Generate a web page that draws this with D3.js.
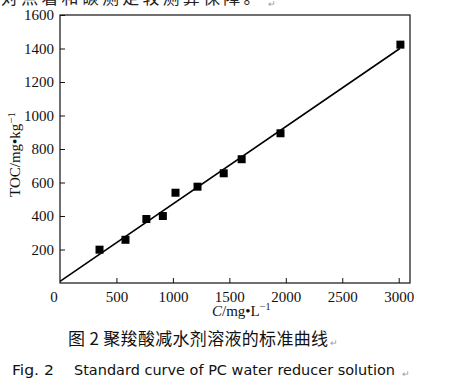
<!DOCTYPE html>
<html>
<head>
<meta charset="utf-8">
<script src="https://cdn.jsdelivr.net/npm/d3@7"></script>
<style>
  html, body { margin: 0; padding: 0; background: #fff; }
  svg { display: block; }
</style>
</head>
<body>
<div id="chart"></div>
<script>
// standard curve data
const concX = [350, 580, 765, 911, 1023, 1218, 1450, 1609, 1953, 3015];
const tocY  = [199, 258, 382, 400, 539, 575, 655, 739, 894, 1423];
const fitX  = [0, 3010];
const fitY  = [10, 1400];
const xTicks = [500, 1000, 1500, 2000, 2500, 3000];
const yTicks = [200, 400, 600, 800, 1000, 1200, 1400, 1600];

const W = 457, H = 392;
const svg = d3.select("#chart").append("svg").attr("width", W).attr("height", H);

const x = d3.scaleLinear().domain([0, 3100]).range([60, 410]);
const y = d3.scaleLinear().domain([0, 1600]).range([283, 15]);
const serif = "'Liberation Serif', 'Times New Roman', Times, serif";

// cut-off line of document text at the very top
svg.append("text")
  .attr("x", 1).attr("y", 4)
  .attr("font-family", "'Noto Sans CJK SC', sans-serif")
  .attr("font-size", 17).attr("letter-spacing", 3.2)
  .attr("fill", "#222")
  .text("对点着和碳测定较测算保障。");
svg.append("text").attr("x", 268).attr("y", 7)
  .attr("font-size", 9).attr("fill", "#999").text("↵");

// frame
svg.append("rect")
  .attr("x", x(0)).attr("y", y(1600))
  .attr("width", x(3100) - x(0)).attr("height", y(0) - y(1600))
  .attr("fill", "none").attr("stroke", "#111").attr("stroke-width", 1.2);

// axes with inward ticks
const gx = svg.append("g").attr("transform", `translate(0,${y(0)})`)
  .call(d3.axisBottom(x).tickValues(xTicks).tickSize(-5).tickPadding(8).tickFormat(d3.format("d")));
const gy = svg.append("g").attr("transform", `translate(${x(0)},0)`)
  .call(d3.axisLeft(y).tickValues(yTicks).tickSize(-5).tickPadding(6).tickFormat(d3.format("d")));
[gx, gy].forEach(g => {
  g.attr("font-family", serif).attr("font-size", 15);
  g.select(".domain").remove();
  g.selectAll("line").attr("stroke", "#111");
  g.selectAll("text").attr("fill", "#111");
});

// shared origin label
svg.append("text").attr("x", 54).attr("y", 302)
  .attr("text-anchor", "middle").attr("font-family", serif).attr("font-size", 15)
  .attr("fill", "#111").text("0");

// fit line
svg.append("line")
  .attr("x1", x(fitX[0])).attr("y1", y(fitY[0]))
  .attr("x2", x(fitX[1])).attr("y2", y(fitY[1]))
  .attr("stroke", "#000").attr("stroke-width", 1.6);

// points
const pts = concX.map((c, i) => ({ c, t: tocY[i] }));
svg.selectAll(".pt").data(pts).join("rect").attr("class", "pt")
  .attr("x", d => x(d.c) - 4).attr("y", d => y(d.t) - 4)
  .attr("width", 8).attr("height", 8).attr("fill", "#000");

// axis titles
const xl = svg.append("text").attr("x", 212).attr("y", 316)
  .attr("font-family", serif).attr("font-size", 15).attr("fill", "#111");
xl.append("tspan").attr("font-style", "italic").text("C");
xl.append("tspan").text("/mg\u2022L");
xl.append("tspan").attr("font-size", 10).attr("dy", -6).text("\u22121");

const yl = svg.append("text")
  .attr("transform", "translate(20,197) rotate(-90)")
  .attr("font-family", serif).attr("font-size", 15).attr("fill", "#111");
yl.append("tspan").text("TOC/mg\u2022kg");
yl.append("tspan").attr("font-size", 11).attr("dy", -5).text("\u22121");

// captions
const cjk = "'Noto Sans CJK SC', sans-serif";
svg.append("text").attr("x", 68).attr("y", 345)
  .attr("font-family", cjk).attr("font-size", 17).attr("fill", "#111")
  .attr("textLength", 260).attr("lengthAdjust", "spacing")
  .text("图 2 聚羧酸减水剂溶液的标准曲线");
svg.append("text").attr("x", 330).attr("y", 346)
  .attr("font-size", 9).attr("fill", "#999").text("↵");

svg.append("text").attr("x", 12).attr("y", 375)
  .attr("font-family", "'DejaVu Sans', sans-serif").attr("font-size", 14).attr("fill", "#111")
  .attr("textLength", 42).attr("lengthAdjust", "spacingAndGlyphs")
  .text("Fig. 2");
svg.append("text").attr("x", 74).attr("y", 375)
  .attr("font-family", "'DejaVu Sans', sans-serif").attr("font-size", 14).attr("fill", "#111")
  .attr("textLength", 321).attr("lengthAdjust", "spacingAndGlyphs")
  .text("Standard curve of PC  water reducer solution");
svg.append("text").attr("x", 402).attr("y", 377)
  .attr("font-size", 9).attr("fill", "#999").text("↵");
</script>
</body>
</html>
